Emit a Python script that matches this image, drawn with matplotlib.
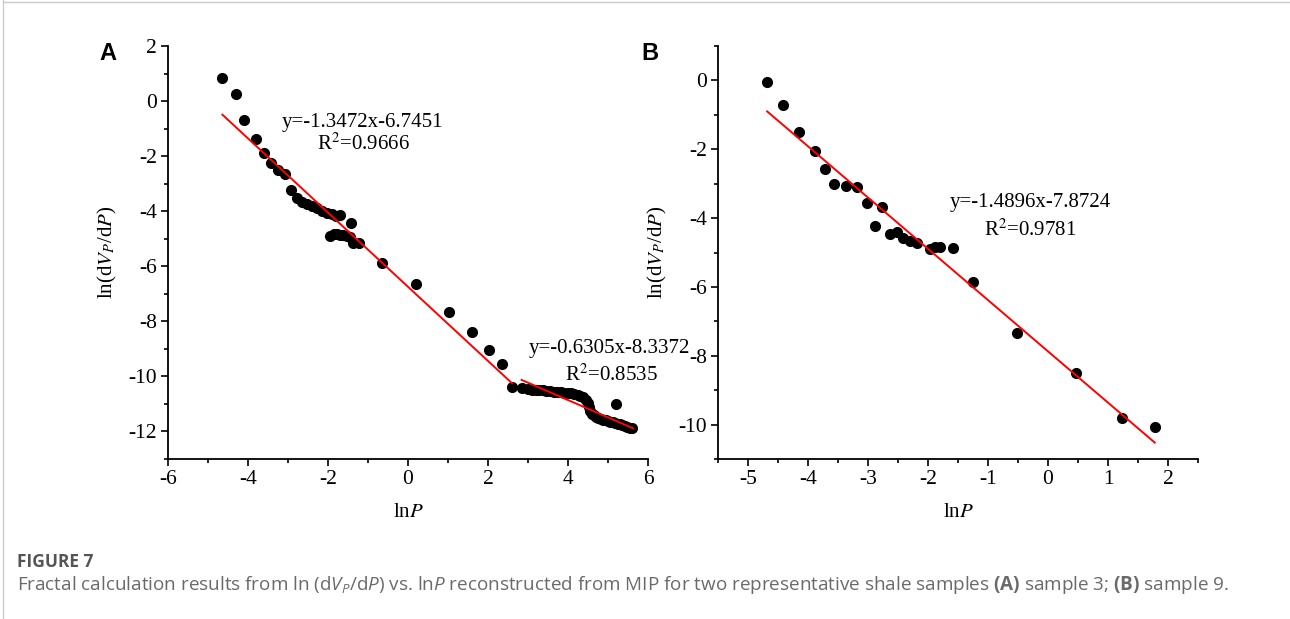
import numpy as np
import matplotlib
matplotlib.use("Agg")
import matplotlib.pyplot as plt
from matplotlib.lines import Line2D
from matplotlib.ticker import MultipleLocator

plt.rcParams["font.family"] = ["Liberation Serif", "DejaVu Serif"]
plt.rcParams["axes.unicode_minus"] = False
plt.rcParams["mathtext.fontset"] = "custom"
plt.rcParams["mathtext.rm"] = "Open Sans"
plt.rcParams["mathtext.it"] = "Open Sans:italic"
plt.rcParams["mathtext.bf"] = "Open Sans:bold"

# ---- sample 3 (panel A) ----
a_lnp = [-4.64, -4.31, -4.11, -3.81, -3.59, -3.43, -3.24, -3.08, -2.93, -2.78,
         -2.66, -2.53, -2.41, -2.28, -2.16, -2.03, -1.91, -1.80, -1.70, -1.43,
         -1.95, -1.85, -1.78, -1.70, -1.62, -1.52, -1.45, -1.37, -1.22, -0.66,
         0.19, 1.03, 1.61, 2.03, 2.34, 2.61, 2.84, 3.01, 3.10, 3.19, 3.28,
         3.37, 3.46, 3.55, 3.64, 3.73, 3.82, 3.91, 4.00, 4.08, 4.16, 4.24,
         4.31, 4.38, 4.44, 4.49, 4.52, 4.55, 4.59, 4.64, 4.70, 4.76, 4.82,
         4.88, 4.94, 5.00, 5.06, 5.12, 5.18, 5.24, 5.30, 5.36, 5.42, 5.48,
         5.54, 5.60, 5.20]
a_lnv = [0.85, 0.26, -0.69, -1.38, -1.87, -2.26, -2.50, -2.65, -3.23, -3.53,
         -3.65, -3.74, -3.81, -3.90, -3.98, -4.05, -4.11, -4.16, -4.14, -4.42,
         -4.90, -4.84, -4.83, -4.85, -4.87, -4.90, -4.95, -5.14, -5.17, -5.89,
         -6.64, -7.67, -8.38, -9.04, -9.56, -10.37, -10.43, -10.47, -10.48, -10.49, -10.50,
         -10.51, -10.52, -10.54, -10.55, -10.56, -10.58, -10.59, -10.60, -10.62, -10.64, -10.67,
         -10.70, -10.76, -10.86, -10.98, -11.10, -11.25, -11.36, -11.42, -11.47, -11.51, -11.54,
         -11.57, -11.60, -11.62, -11.65, -11.67, -11.69, -11.72, -11.74, -11.77, -11.80, -11.83,
         -11.86, -11.89, -11.00]
a_fits = [(-1.3472, -6.7451, -4.64, 2.60), (-0.6305, -8.3372, 2.84, 5.63)]
a_eqs = ["y=-1.3472x-6.7451", "y=-0.6305x-8.3372"]
a_r2 = ["R$^2$=0.9666", "R$^2$=0.8535"]

# ---- sample 9 (panel B) ----
b_lnp = [-4.68, -4.41, -4.15, -3.88, -3.72, -3.56, -3.36, -3.18, -3.02, -2.88,
         -2.76, -2.63, -2.52, -2.41, -2.30, -2.19, -1.97, -1.88, -1.80, -1.58,
         -1.25, -0.52, 0.47, 1.24, 1.78]
b_lnv = [-0.06, -0.72, -1.49, -2.05, -2.56, -3.02, -3.06, -3.09, -3.57, -4.22,
         -3.67, -4.45, -4.40, -4.59, -4.67, -4.72, -4.91, -4.83, -4.83, -4.88,
         -5.85, -7.33, -8.50, -9.82, -10.07]
b_fits = [(-1.4896, -7.8724, -4.68, 1.78)]
b_eqs = ["y=-1.4896x-7.8724"]
b_r2 = ["R$^2$=0.9781"]

W, H = 1290, 619
fig = plt.figure(figsize=(W / 100, H / 100), dpi=100)


def fx(px):
    return px / W


def fy(py):
    return 1 - py / H


def make_axes(left_px, xlim, ylim, xmaj, xmin, ymaj, ymin):
    ax = fig.add_axes([fx(left_px), fy(459), 480 / W, 413 / H])
    ax.set_xlim(*xlim)
    ax.set_ylim(*ylim)
    for s in ("top", "right"):
        ax.spines[s].set_visible(False)
    for s in ("left", "bottom"):
        ax.spines[s].set_linewidth(1.3)
    ax.xaxis.set_major_locator(MultipleLocator(xmaj))
    ax.xaxis.set_minor_locator(MultipleLocator(xmin))
    ax.yaxis.set_major_locator(MultipleLocator(ymaj))
    ax.yaxis.set_minor_locator(MultipleLocator(ymin))
    ax.tick_params(which="major", direction="out", length=5, width=1.2,
                   labelsize=15.5, pad=3)
    ax.tick_params(which="minor", direction="out", length=3, width=1.2)
    ax.set_xlabel("ln$P$", fontsize=15, math_fontfamily="stix")
    ax.set_ylabel("ln(d$V_P$/d$P$)", fontsize=15, math_fontfamily="stix")
    ax.xaxis.set_label_coords(0.5, -0.13)
    ax.xaxis.label.set_va("center")
    ax.yaxis.set_label_coords(-0.127, 0.5)
    ax.yaxis.label.set_va("center")
    return ax


def draw(ax, xs, ys, fits):
    ax.plot(xs, ys, "o", color="black", ms=7, mec="black", zorder=2,
            clip_on=False)
    for k, b, x0, x1 in fits:
        xx = np.array([x0, x1])
        ax.plot(xx, k * xx + b, color="red", lw=1.4, zorder=3)


axA = make_axes(168, (-6, 6), (-13, 2), 2, 1, 2, 1)
draw(axA, a_lnp, a_lnv, a_fits)
axB = make_axes(718, (-5.5, 2.5), (-11, 1), 1, 0.5, 2, 1)
draw(axB, b_lnp, b_lnv, b_fits)

# fit annotations (pixel positions from the figure)
ann = [(362, 123, a_eqs[0]), (363, 144, a_r2[0]),
       (609, 348, a_eqs[1]), (611, 375, a_r2[1]),
       (1030, 202, b_eqs[0]), (1030, 230, b_r2[0])]
for px, py, s in ann:
    fig.text(fx(px), fy(py), s, ha="center", va="center", fontsize=15,
             math_fontfamily="stix")

fig.text(fx(108), fy(53), "A", ha="center", va="center", fontsize=17,
         fontweight="bold", family="Liberation Sans")
fig.text(fx(650), fy(53), "B", ha="center", va="center", fontsize=17,
         fontweight="bold", family="Liberation Sans")

# caption
fig.text(fx(17), fy(562), "FIGURE 7", ha="left", va="center", fontsize=12.5,
         fontweight="bold", family="Open Sans", color="#555555")
fig.text(fx(17), fy(585),
         "Fractal calculation results from ln (d$V_P$/d$P$) vs. ln$P$ "
         "reconstructed from MIP for two representative shale samples "
         "$\\mathbf{(A)}$ sample 3; $\\mathbf{(B)}$ sample 9.",
         ha="left", va="center", fontsize=13.6, family="Open Sans",
         color="#6a6a6a", math_fontfamily="custom")

# page frame lines
fig.add_artist(Line2D([fx(3), fx(3)], [0, 1], color="#cccccc", lw=1))
fig.add_artist(Line2D([fx(3), 1], [fy(2), fy(2)], color="#cccccc", lw=1))

fig.savefig("out.png", dpi=100)
